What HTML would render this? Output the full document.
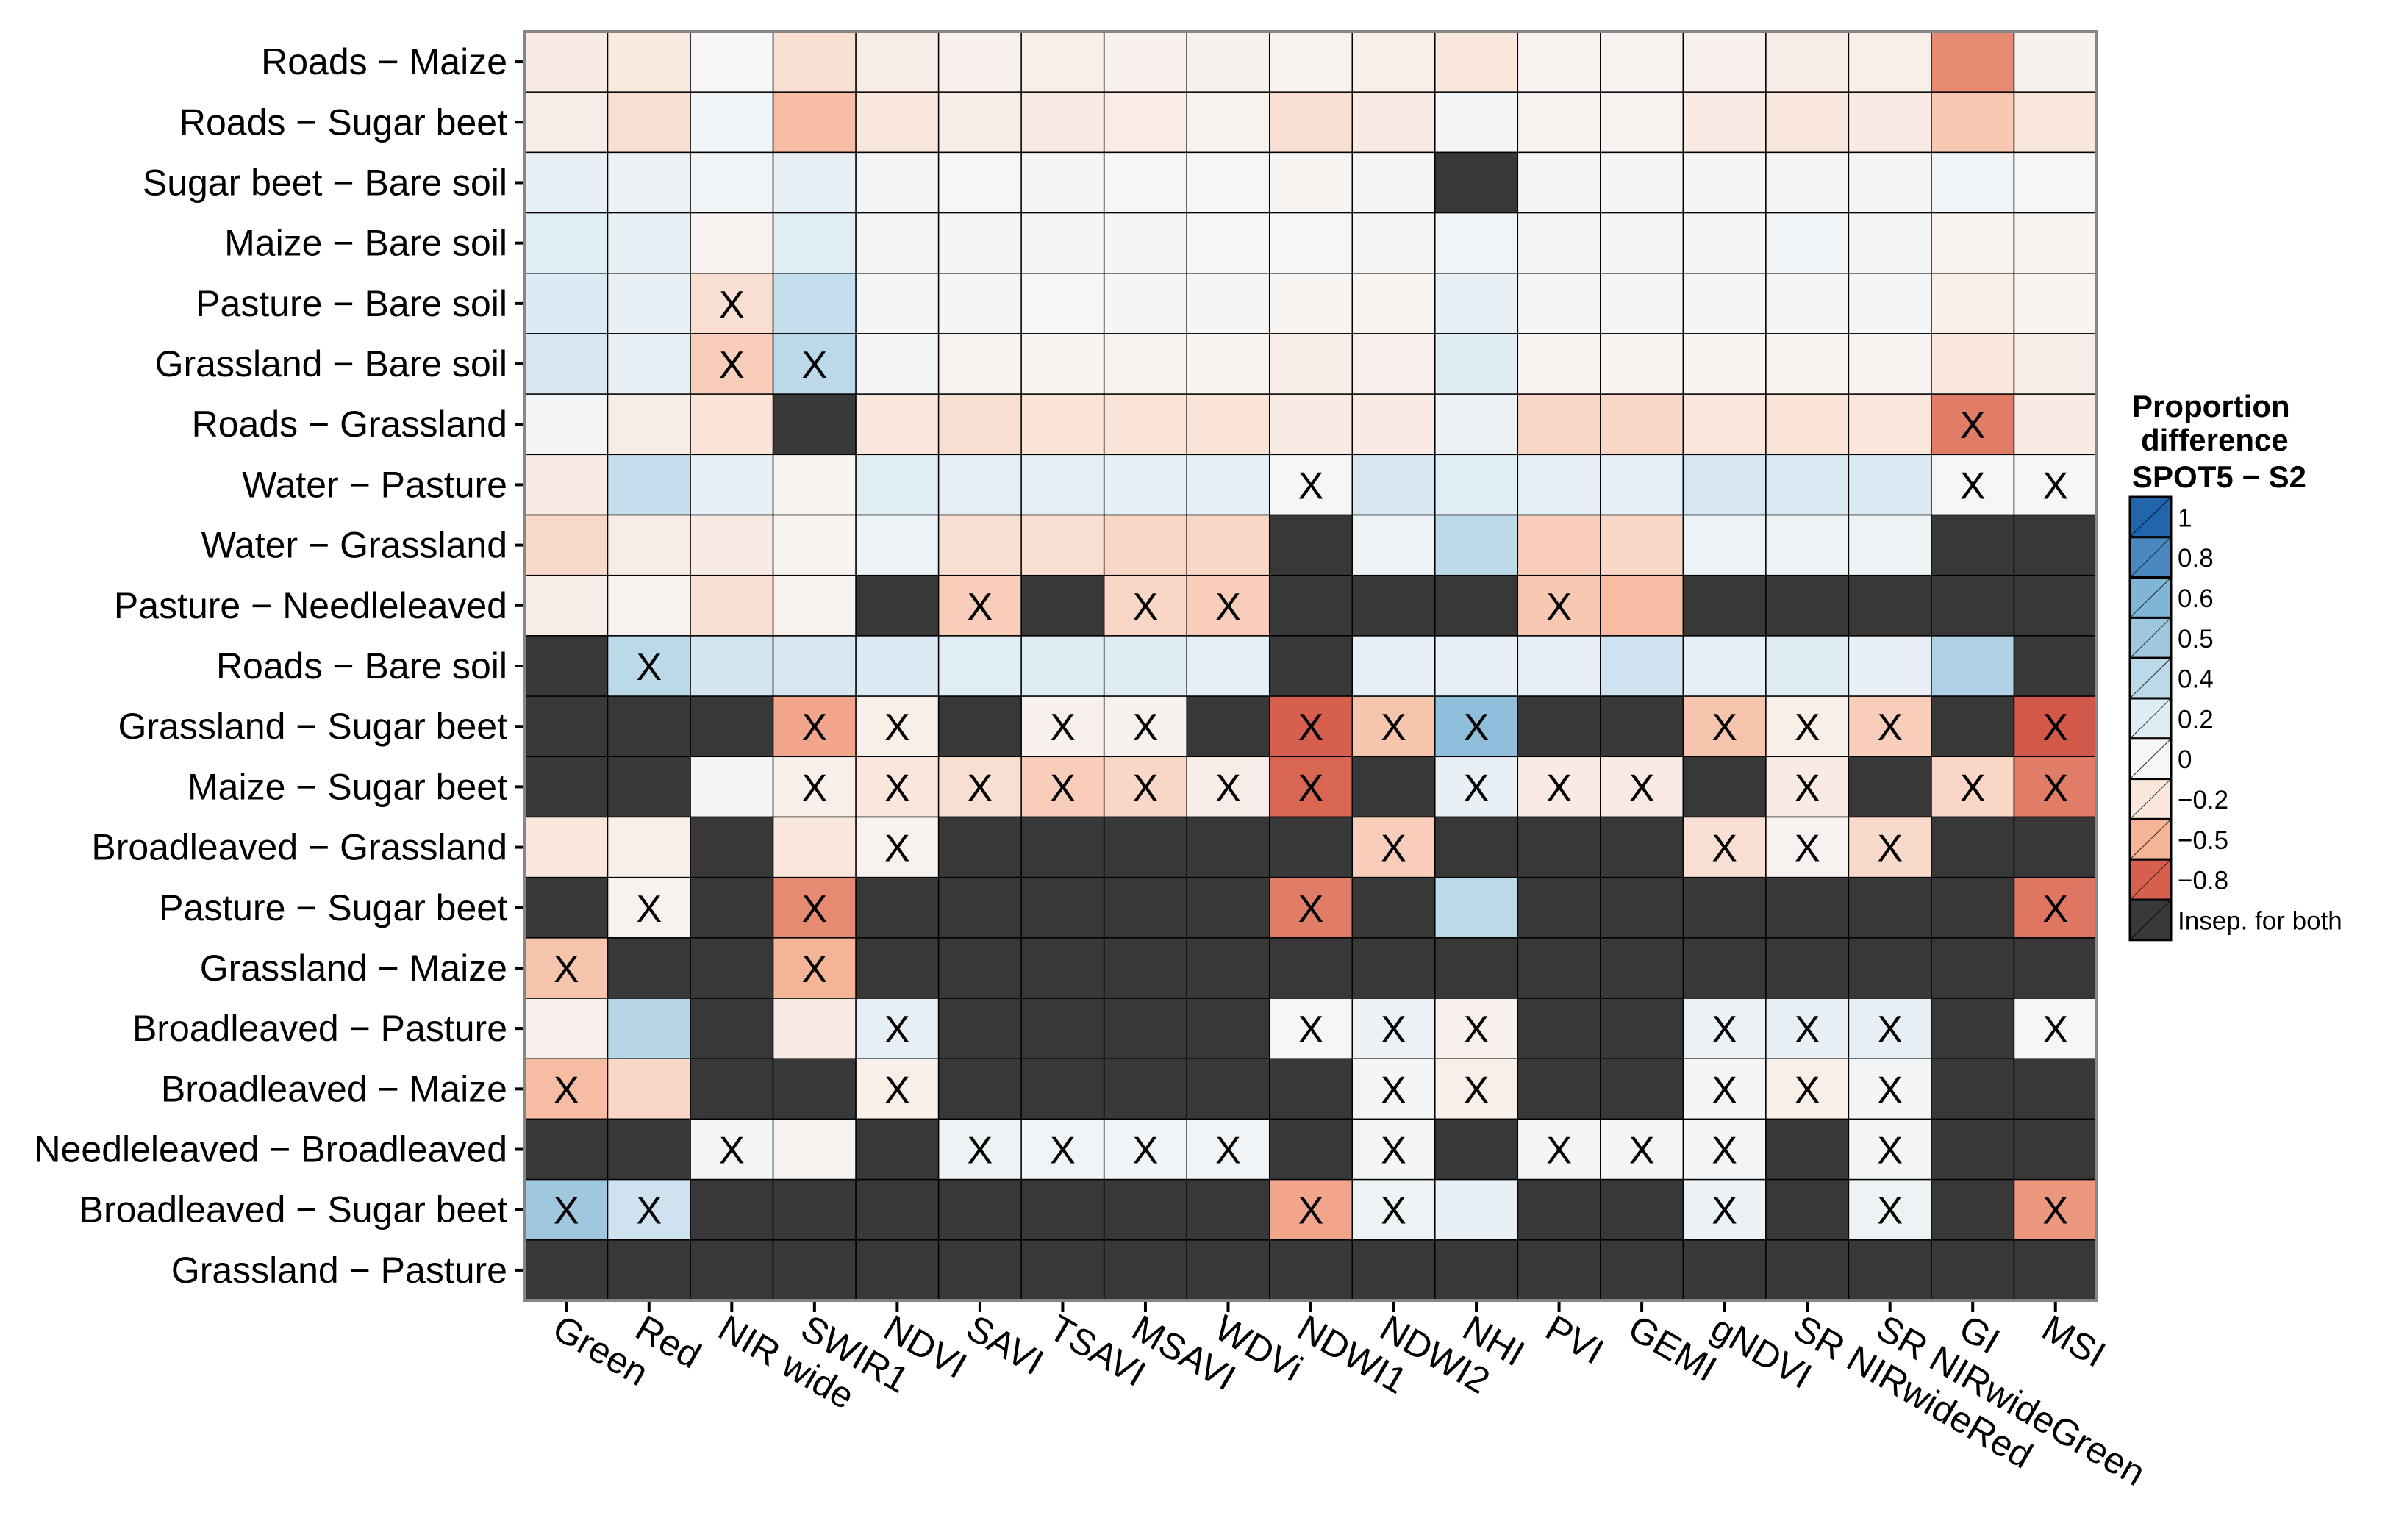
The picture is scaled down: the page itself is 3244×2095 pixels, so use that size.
<!DOCTYPE html>
<html><head><meta charset="utf-8"><style>
html,body{margin:0;padding:0;background:#fff;}
svg{display:block;font-family:"Liberation Sans",Arial,sans-serif;}
</style></head><body>
<svg id="chart" width="3244" height="2095" viewBox="0 0 3244 2095" xmlns="http://www.w3.org/2000/svg">
<g id="cells"></g>
<g id="yaxis"></g>
<g id="xaxis"></g>
<g id="legend"></g>
</svg>
<script>
const columns = ["Green","Red","NIR wide","SWIR1","NDVI","SAVI","TSAVI","MSAVI","WDVi","NDWI1","NDWI2","NHI","PVI","GEMI","gNDVI","SR NIRwideRed","SR NIRwideGreen","GI","MSI"];
const rows = ["Roads \u2212 Maize","Roads \u2212 Sugar beet","Sugar beet \u2212 Bare soil","Maize \u2212 Bare soil","Pasture \u2212 Bare soil","Grassland \u2212 Bare soil","Roads \u2212 Grassland","Water \u2212 Pasture","Water \u2212 Grassland","Pasture \u2212 Needleleaved","Roads \u2212 Bare soil","Grassland \u2212 Sugar beet","Maize \u2212 Sugar beet","Broadleaved \u2212 Grassland","Pasture \u2212 Sugar beet","Grassland \u2212 Maize","Broadleaved \u2212 Pasture","Broadleaved \u2212 Maize","Needleleaved \u2212 Broadleaved","Broadleaved \u2212 Sugar beet","Grassland \u2212 Pasture"];
const N = null;
const values = [
[-0.15,-0.18,0,-0.25,-0.12,-0.08,-0.1,-0.08,-0.07,-0.05,-0.1,-0.2,-0.05,-0.05,-0.08,-0.12,-0.1,-0.65,-0.07],
[-0.12,-0.25,0.05,-0.45,-0.2,-0.12,-0.15,-0.13,-0.05,-0.25,-0.15,0.02,-0.05,-0.05,-0.15,-0.2,-0.15,-0.38,-0.2],
[0.12,0.1,0.05,0.12,0.02,0,0.02,0,0,-0.03,-0.02,N,0.02,0.02,0.02,0.03,0.02,0.05,0],
[0.18,0.13,-0.05,0.18,0.03,0.02,0.03,0.02,0,0,-0.02,0.05,0.03,0.03,0.02,0.04,0.03,-0.06,-0.03],
[0.22,0.12,-0.25,0.35,0.02,-0.02,0,-0.02,-0.02,-0.03,-0.03,0.12,0.02,0.02,0.02,0.03,0.02,-0.1,-0.03],
[0.25,0.12,-0.35,0.4,0.03,-0.05,-0.03,-0.05,-0.03,-0.12,-0.08,0.2,-0.03,-0.03,-0.03,-0.03,-0.03,-0.2,-0.12],
[0.03,-0.12,-0.22,N,-0.2,-0.25,-0.22,-0.22,-0.22,-0.15,-0.15,0.1,-0.3,-0.3,-0.2,-0.22,-0.2,-0.7,-0.15],
[-0.15,0.35,0.12,-0.03,0.18,0.15,0.15,0.15,0.15,0,0.25,0.18,0.15,0.15,0.25,0.22,0.22,0,0],
[-0.28,-0.12,-0.15,-0.03,0.08,-0.25,-0.25,-0.3,-0.3,N,0.08,0.4,-0.35,-0.3,0.08,0.08,0.08,N,N],
[-0.12,-0.05,-0.25,-0.06,N,-0.35,N,-0.3,-0.35,N,N,N,-0.38,-0.45,N,N,N,N,N],
[N,0.4,0.28,0.25,0.22,0.18,0.2,0.2,0.15,N,0.15,0.15,0.15,0.3,0.15,0.2,0.12,0.45,N],
[N,N,N,-0.55,-0.1,N,-0.08,-0.07,N,-0.8,-0.4,0.55,N,N,-0.4,-0.1,-0.35,N,-0.82],
[N,N,0.02,-0.1,-0.2,-0.25,-0.35,-0.3,-0.12,-0.78,N,0.12,-0.15,-0.15,N,-0.15,N,-0.3,-0.7],
[-0.2,-0.1,N,-0.2,-0.06,N,N,N,N,N,-0.35,N,N,N,-0.25,-0.05,-0.28,N,N],
[N,-0.05,N,-0.65,N,N,N,N,N,-0.7,N,0.4,N,N,N,N,N,N,-0.72],
[-0.4,N,N,-0.5,N,N,N,N,N,N,N,N,N,N,N,N,N,N,N],
[-0.08,0.42,N,-0.15,0.15,N,N,N,N,0,0.1,-0.08,N,N,0.1,0.12,0.15,N,0],
[-0.45,-0.3,N,N,-0.1,N,N,N,N,N,0.02,-0.1,N,N,0.02,-0.1,0.02,N,N],
[N,N,0.02,-0.05,N,0.08,0.05,0.05,0.05,N,0.03,N,0.03,0.03,0.03,N,0.03,N,N],
[0.5,0.3,N,N,N,N,N,N,N,-0.55,0.08,0.12,N,N,0.1,N,0.08,N,-0.6],
[N,N,N,N,N,N,N,N,N,N,N,N,N,N,N,N,N,N,N]
];
const marks = [
"0000000000000000000",
"0000000000000000000",
"0000000000000000000",
"0000000000000000000",
"0010000000000000000",
"0011000000000000000",
"0000000000000000010",
"0000000001000000011",
"0000000000000000000",
"0000010110001000000",
"0100000000000000000",
"0001101101110011101",
"0001111111011101011",
"0000100000100011100",
"0101000001000000001",
"1001000000000000000",
"0000100001110011101",
"1000100000110011100",
"0010011110101110100",
"1100000001100010101",
"0000000000000000000"
];
const legendLabels = ["1","0.8","0.6","0.5","0.4","0.2","0","\u22120.2","\u22120.5","\u22120.8","Insep. for both"];
const legendValues = [1,0.8,0.6,0.5,0.4,0.2,0,-0.2,-0.5,-0.8,null];

const NS="http://www.w3.org/2000/svg";
const X0=714, X1=2852, Y0=43, Y1=1769;
const cw=(X1-X0)/columns.length, rh=(Y1-Y0)/rows.length;
const xPos=i=>X0+i*cw, yPos=j=>Y0+j*rh;
const stops=[[-1,[178,24,43]],[-0.8,[214,96,77]],[-0.5,[246,180,151]],[-0.2,[250,231,220]],[0,[246,246,246]],[0.2,[223,236,244]],[0.4,[188,217,234]],[0.5,[159,200,223]],[0.6,[128,181,214]],[0.8,[74,137,192]],[1,[33,102,172]]];
function color(v){
  if(v===null) return "#383838";
  for(let k=0;k<stops.length-1;k++){const a=stops[k],b=stops[k+1];
    if(v>=a[0]&&v<=b[0]){const t=(v-a[0])/(b[0]-a[0]);const c=a[1].map((x,i)=>Math.round(x+(b[1][i]-x)*t));return `rgb(${c[0]},${c[1]},${c[2]})`;}}
  return v>0?"rgb(33,102,172)":"rgb(178,24,43)";
}
function mk(tag,attrs,parent){const e=document.createElementNS(NS,tag);for(const k in attrs)e.setAttribute(k,attrs[k]);parent.appendChild(e);return e;}
const cells=document.getElementById('cells');
rows.forEach((r,j)=>{columns.forEach((c,i)=>{
  const rect=mk('rect',{x:xPos(i),y:yPos(j),width:cw,height:rh,fill:color(values[j][i]),stroke:'#000','stroke-width':1.5},cells);
  
  
  if(marks[j][i]==='1'){
    const t=mk('text',{x:xPos(i)+cw/2,y:yPos(j)+rh/2+19,'text-anchor':'middle','font-size':52,fill:'#000'},cells);
    t.textContent='X';
    
    
  }
});});
mk('rect',{x:X0,y:Y0,width:X1-X0,height:Y1-Y0,fill:'none',stroke:'#868686','stroke-width':4},cells);
const ya=document.getElementById('yaxis');
rows.forEach((r,j)=>{
  const cy=yPos(j)+rh/2;
  mk('line',{x1:700,x2:X0-2,y1:cy,y2:cy,stroke:'#000','stroke-width':4},ya);
  const t=mk('text',{x:690,y:cy+17,'text-anchor':'end','font-size':50,fill:'#000'},ya);
  t.textContent=r;
  
  
});
const xa=document.getElementById('xaxis');
columns.forEach((c,i)=>{
  const cx=xPos(i)+cw/2;
  mk('line',{x1:cx,x2:cx,y1:Y1+2,y2:Y1+16,stroke:'#000','stroke-width':4},xa);
  const t=mk('text',{x:0,y:0,'font-size':50,fill:'#000',transform:`translate(${cx-22},${Y1+48}) rotate(30)`},xa);
  t.textContent=c;
  
  
});
const lg=document.getElementById('legend');
[["Proportion",2900,567],["difference",2912,613],["SPOT5 \u2212 S2",2900,663]].forEach(s=>{
  const t=mk('text',{x:s[1],y:s[2],'font-size':42,'font-weight':'bold',fill:'#000'},lg);
  t.textContent=s[0];
  
  
});
const kh=54.8, kx=2897, kw=56, ky=676;
legendLabels.forEach((l,k)=>{
  const y=ky+k*kh;
  mk('rect',{x:kx,y:y,width:kw,height:kh,fill:color(legendValues[k]),stroke:'#000','stroke-width':3},lg);
  mk('line',{x1:kx,y1:y+kh,x2:kx+kw,y2:y,stroke:'#000','stroke-width':0.8},lg);
  const t=mk('text',{x:2962,y:y+kh/2+13,'font-size':35,fill:'#000'},lg);
  t.textContent=l;
  
  
});
</script>
</body></html>
